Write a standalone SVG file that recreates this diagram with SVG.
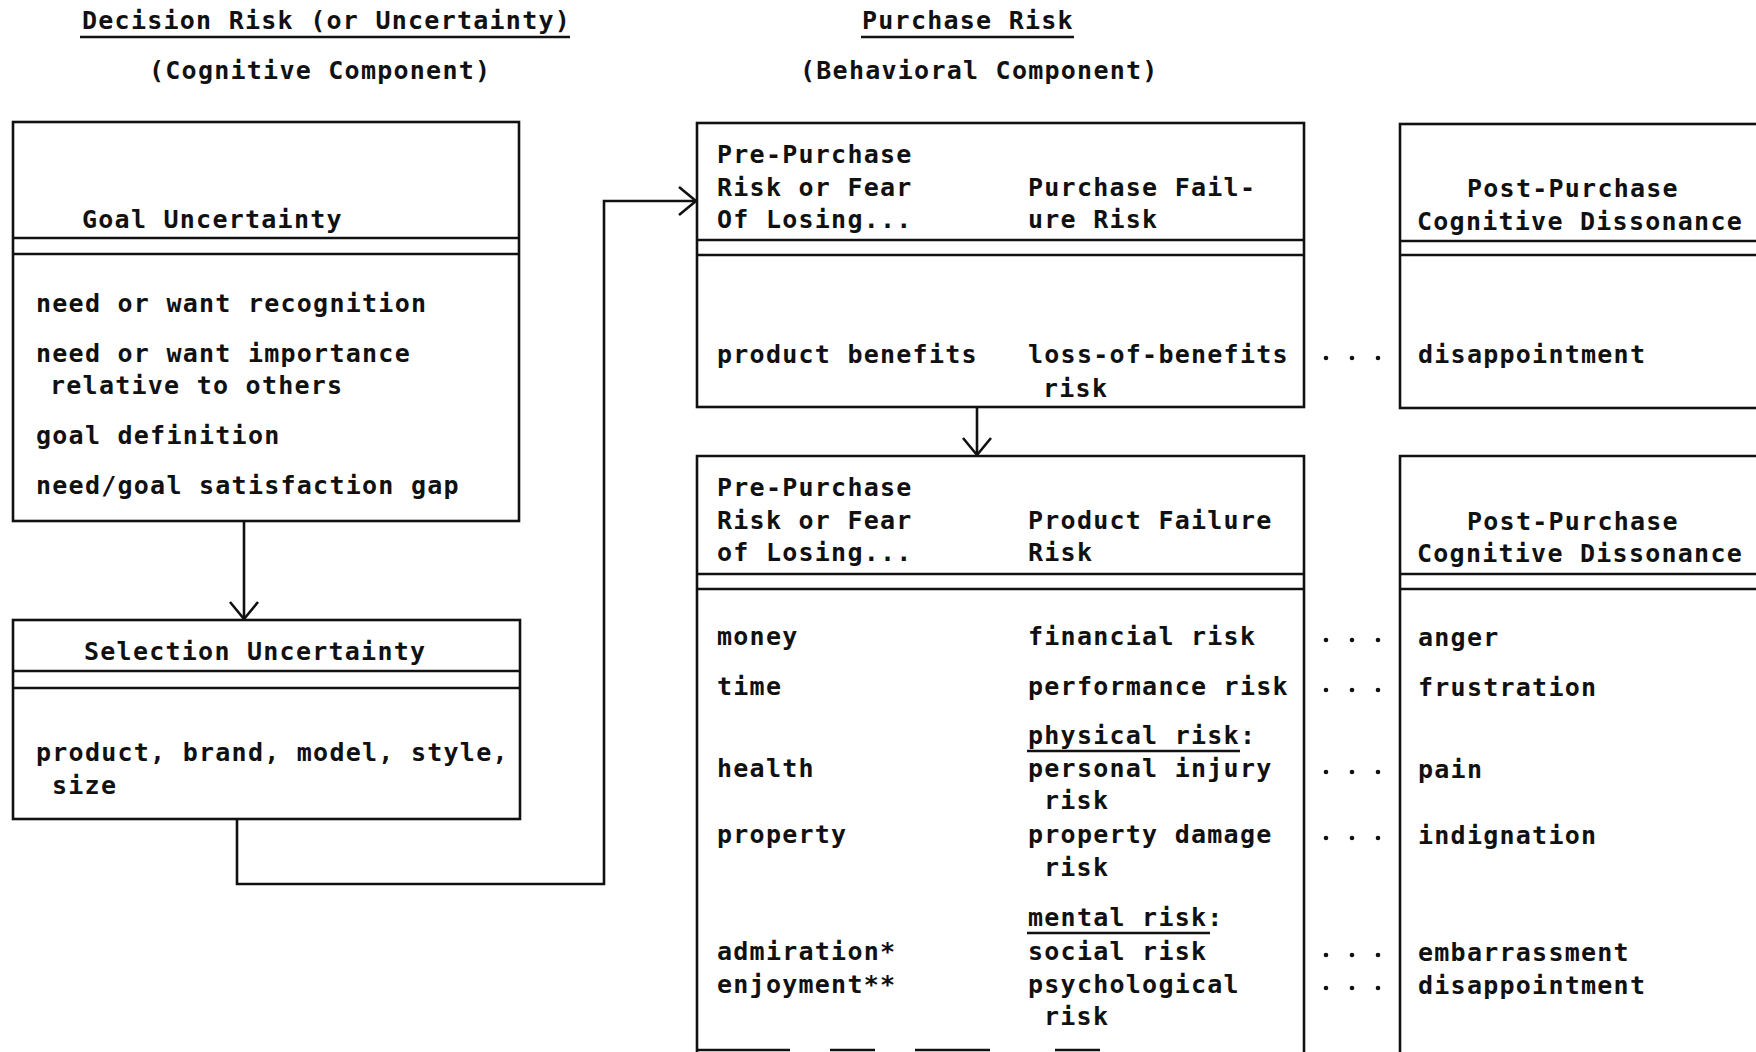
<svg xmlns="http://www.w3.org/2000/svg" width="1756" height="1052" viewBox="0 0 1756 1052">
  <style>
    text { font-family: "DejaVu Sans Mono", "Liberation Mono", monospace; font-size: 25px; font-weight: bold; letter-spacing: 1.25px; fill: #111; }
    .ln { fill: none; stroke: #111; stroke-width: 2.6; }
    .conn { fill: none; stroke: #111; stroke-width: 2.6; }
    .dot { fill: #111; }
  </style>
  <defs>
    <marker id="arrow" markerUnits="userSpaceOnUse" markerWidth="40" markerHeight="40" refX="0" refY="0" viewBox="-20 -20 40 40" orient="auto">
      <path d="M -17 -14 L 0 0 L -17 14" fill="none" stroke="#111" stroke-width="2.6"/>
    </marker>
  </defs>

  <rect width="1756" height="1052" fill="#fff"/>

  <!-- column titles -->
  <g id="title-decision">
    <text x="82" y="29">Decision Risk (or Uncertainty)</text>
    <line class="ln" x1="80" y1="37" x2="570" y2="37"/>
    <text x="149" y="79">(Cognitive Component)</text>
  </g>
  <g id="title-purchase">
    <text x="862" y="29">Purchase Risk</text>
    <line class="ln" x1="861" y1="37" x2="1074" y2="37"/>
    <text x="800" y="79">(Behavioral Component)</text>
  </g>

  <!-- Goal Uncertainty -->
  <g id="goal-uncertainty">
    <rect class="ln" x="13" y="122" width="506" height="399"/>
    <line class="ln" x1="13" y1="238" x2="519" y2="238"/>
    <line class="ln" x1="13" y1="254" x2="519" y2="254"/>
    <text x="82" y="228">Goal Uncertainty</text>
    <text x="36" y="312">need or want recognition</text>
    <text x="36" y="362">need or want importance</text>
    <text x="50" y="394">relative to others</text>
    <text x="36" y="444">goal definition</text>
    <text x="36" y="494">need/goal satisfaction gap</text>
  </g>

  <!-- Selection Uncertainty -->
  <g id="selection-uncertainty">
    <rect class="ln" x="13" y="620" width="507" height="199"/>
    <line class="ln" x1="13" y1="671" x2="520" y2="671"/>
    <line class="ln" x1="13" y1="688" x2="520" y2="688"/>
    <text x="84" y="660">Selection Uncertainty</text>
    <text x="36" y="761">product, brand, model, style,</text>
    <text x="52" y="794">size</text>
  </g>

  <!-- Purchase failure risk -->
  <g id="purchase-failure">
    <rect class="ln" x="697" y="123" width="607" height="284"/>
    <line class="ln" x1="697" y1="240" x2="1304" y2="240"/>
    <line class="ln" x1="697" y1="255" x2="1304" y2="255"/>
    <text x="717" y="163">Pre-Purchase</text>
    <text x="717" y="196">Risk or Fear</text>
    <text x="717" y="228">Of Losing...</text>
    <text x="1028" y="196">Purchase Fail-</text>
    <text x="1028" y="228">ure Risk</text>
    <text x="717" y="363">product benefits</text>
    <text x="1028" y="363">loss-of-benefits</text>
    <text x="1043" y="397">risk</text>
  </g>

  <!-- Post-purchase dissonance (purchase) -->
  <g id="post-purchase-1">
    <rect class="ln" x="1400" y="124" width="420" height="284"/>
    <line class="ln" x1="1400" y1="241" x2="1756" y2="241"/>
    <line class="ln" x1="1400" y1="255" x2="1756" y2="255"/>
    <text x="1467" y="197">Post-Purchase</text>
    <text x="1417" y="230">Cognitive Dissonance</text>
    <text x="1418" y="363">disappointment</text>
  </g>

  <!-- Product failure risk -->
  <g id="product-failure">
    <path class="ln" d="M 697 1052 L 697 456 L 1304 456 L 1304 1052"/>
    <path class="ln" d="M 697 1050 L 790 1050 M 830 1050 L 875 1050 M 915 1050 L 990 1050 M 1055 1050 L 1100 1050"/>
    <line class="ln" x1="697" y1="574" x2="1304" y2="574"/>
    <line class="ln" x1="697" y1="589" x2="1304" y2="589"/>
    <text x="717" y="496">Pre-Purchase</text>
    <text x="717" y="529">Risk or Fear</text>
    <text x="717" y="561">of Losing...</text>
    <text x="1028" y="529">Product Failure</text>
    <text x="1028" y="561">Risk</text>

    <text x="717" y="645">money</text>
    <text x="1028" y="645">financial risk</text>
    <text x="717" y="695">time</text>
    <text x="1028" y="695">performance risk</text>
    <text x="1028" y="744">physical risk:</text>
    <line class="ln" x1="1027" y1="751" x2="1240" y2="751"/>
    <text x="717" y="777">health</text>
    <text x="1028" y="777">personal injury</text>
    <text x="1044" y="809">risk</text>
    <text x="717" y="843">property</text>
    <text x="1028" y="843">property damage</text>
    <text x="1044" y="876">risk</text>
    <text x="1028" y="926">mental risk:</text>
    <line class="ln" x1="1027" y1="933" x2="1210" y2="933"/>
    <text x="717" y="960">admiration*</text>
    <text x="1028" y="960">social risk</text>
    <text x="717" y="993">enjoyment**</text>
    <text x="1028" y="993">psychological</text>
    <text x="1044" y="1025">risk</text>
  </g>

  <!-- Post-purchase dissonance (product) -->
  <g id="post-purchase-2">
    <path class="ln" d="M 1400 1052 L 1400 456 L 1756 456"/>
    <line class="ln" x1="1400" y1="574" x2="1756" y2="574"/>
    <line class="ln" x1="1400" y1="589" x2="1756" y2="589"/>
    <text x="1467" y="530">Post-Purchase</text>
    <text x="1417" y="562">Cognitive Dissonance</text>
    <text x="1418" y="646">anger</text>
    <text x="1418" y="696">frustration</text>
    <text x="1418" y="778">pain</text>
    <text x="1418" y="844">indignation</text>
    <text x="1418" y="961">embarrassment</text>
    <text x="1418" y="994">disappointment</text>
  </g>

  <!-- connectors -->
  <g id="connectors">
    <line class="conn" x1="244" y1="521" x2="244" y2="619" marker-end="url(#arrow)"/>
    <polyline class="conn" points="237,819 237,884 604,884 604,201 696,201" marker-end="url(#arrow)"/>
    <line class="conn" x1="977" y1="407" x2="977" y2="455" marker-end="url(#arrow)"/>
    <!-- dotted leaders between risk and dissonance columns -->
    <g class="dot">
      <circle cx="1326" cy="358" r="2.3"/><circle cx="1352" cy="358" r="2.3"/><circle cx="1378" cy="358" r="2.3"/>
      <circle cx="1326" cy="640" r="2.3"/><circle cx="1352" cy="640" r="2.3"/><circle cx="1378" cy="640" r="2.3"/>
      <circle cx="1326" cy="690" r="2.3"/><circle cx="1352" cy="690" r="2.3"/><circle cx="1378" cy="690" r="2.3"/>
      <circle cx="1326" cy="772" r="2.3"/><circle cx="1352" cy="772" r="2.3"/><circle cx="1378" cy="772" r="2.3"/>
      <circle cx="1326" cy="838" r="2.3"/><circle cx="1352" cy="838" r="2.3"/><circle cx="1378" cy="838" r="2.3"/>
      <circle cx="1326" cy="955" r="2.3"/><circle cx="1352" cy="955" r="2.3"/><circle cx="1378" cy="955" r="2.3"/>
      <circle cx="1326" cy="988" r="2.3"/><circle cx="1352" cy="988" r="2.3"/><circle cx="1378" cy="988" r="2.3"/>
    </g>
  </g>
</svg>
